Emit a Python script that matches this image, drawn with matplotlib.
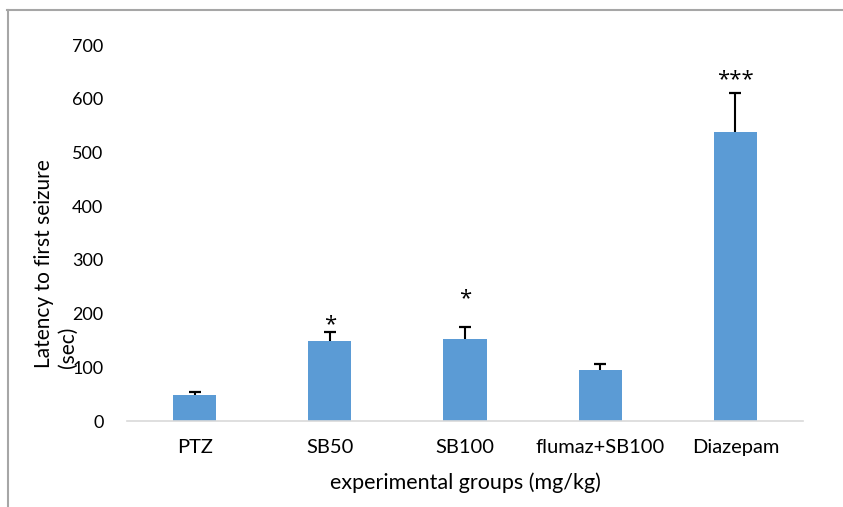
import matplotlib.pyplot as plt
from matplotlib.lines import Line2D

groups = ["PTZ", "SB50", "SB100", "flumaz+SB100", "Diazepam"]
latency = [48, 149, 153, 95, 538]
sem = [6, 17, 22, 11, 73]
stars = ["", "*", "*", "", "***"]
star_y = [None, 180, 228, None, 636]

plt.rcParams['font.family'] = ['Lato', 'DejaVu Sans']

fig = plt.figure(figsize=(8.43, 5.07), dpi=100)
ax = fig.add_axes([127 / 843, 1 - 421 / 507, (803 - 127) / 843, (421 - 45) / 507])

x = list(range(len(groups)))
tops = [v + e for v, e in zip(latency, sem)]
ax.bar(x, latency, width=0.32, color='#5b9bd5', zorder=2)
# upper-only error bars: stem plus cap
ax.vlines(x, latency, tops, color='black', lw=1.5, zorder=3)
ax.plot(x, tops, ls='none', marker='_', markersize=9, mew=1.6, color='black', zorder=3)

for xi, s, sy in zip(x, stars, star_y):
    if s:
        ax.text(xi, sy, s, ha='center', va='center', fontsize=16,
                family=['Open Sans', 'DejaVu Sans'])

ax.set_xlim(-0.5, len(groups) - 0.5)
ax.set_ylim(0, 700)
ax.set_yticks(range(0, 701, 100))
ax.set_xticks(x)
ax.set_xticklabels(groups, fontsize=14.5)
ax.tick_params(axis='y', labelsize=13, length=0, pad=17)
ax.tick_params(axis='x', length=0, pad=13)

for side in ['top', 'right', 'left']:
    ax.spines[side].set_visible(False)
ax.spines['bottom'].set_color('#d9d9d9')
ax.spines['bottom'].set_linewidth(1.2)

ax.set_xlabel("experimental groups (mg/kg)", fontsize=15.5, labelpad=12)

# two-line y label, both lines starting from the same baseline end
label_bottom = 1 - 368 / 507
fig.text(44 / 843, label_bottom, "Latency to first seizure", rotation=90,
         ha='center', va='bottom', fontsize=15)
fig.text(68 / 843, label_bottom, "(sec)", rotation=90,
         ha='center', va='bottom', fontsize=15)

# outer frame lines along top and left edges
fig.add_artist(Line2D([7 / 843, 1], [1 - 10 / 507] * 2, color='#a6a6a6', lw=1.5,
                      transform=fig.transFigure))
fig.add_artist(Line2D([8 / 843] * 2, [0, 1 - 10 / 507], color='#a6a6a6', lw=1.5,
                      transform=fig.transFigure))

fig.savefig("out.png", dpi=100)
